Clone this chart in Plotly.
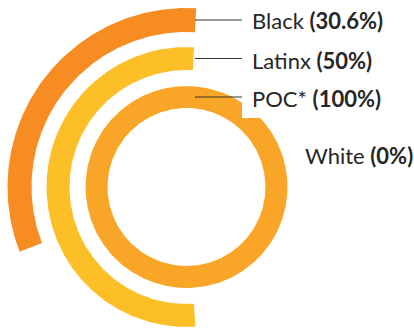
import numpy as np
import plotly.graph_objects as go

# ---- data ----
groups = ["Black", "Latinx", "POC*", "White"]
shares = [30.6, 50.0, 100.0, 0.0]          # percent
labels = ["Black <b>(30.6%)</b>", "Latinx <b>(50%)</b>",
          "POC* <b>(100%)</b>", "White <b>(0%)</b>"]

# ---- style ----
colors = ["#F68C22", "#FDBF27", "#F9A527", "#F9A527"]
radii = [(155, 179), (117, 140), (79, 101), (41, 63)]  # inner, outer (px)
cx, cy = 186.5, 187.0
start_offset = 3.1          # degrees clockwise from 12 o'clock
deg_per_pct = 3.735
label_x = 250
label_y = [20.5, 60, 98, 155]
text_color = "#262626"
FONT = "Lato"

fig = go.Figure()

for g, s, col, (ri, ro) in zip(groups, shares, colors, radii):
    if s <= 0:
        continue
    span = min(s * deg_per_pct, 360.0)
    a0 = start_offset
    a1 = start_offset - span
    n = max(int(abs(span) * 2), 10)
    t = np.radians(np.linspace(a0, a1, n))
    tr = t[::-1]
    xs = np.concatenate([cx + ro * np.sin(t), cx + ri * np.sin(tr)])
    ys = np.concatenate([cy - ro * np.cos(t), cy - ri * np.cos(tr)])
    xs = np.append(xs, xs[0])
    ys = np.append(ys, ys[0])
    fig.add_trace(go.Scatter(x=xs, y=ys, mode="lines", fill="toself",
                             fillcolor=col, line=dict(width=0, color=col),
                             hoverinfo="skip", name=g, showlegend=False))

shapes = []
shapes.append(dict(type="rect", xref="x", yref="y", x0=242, x1=414, y0=80, y1=118,
                   fillcolor="white", line=dict(width=0), layer="above"))
for i, (s, (ri, ro)) in enumerate(zip(shares, radii)):
    if s <= 0:
        continue
    yl = cy - (ri + ro) / 2
    shapes.append(dict(type="line", xref="x", yref="y", x0=195, x1=242, y0=yl, y1=yl,
                       line=dict(color="#333333", width=1.2), layer="above"))

annotations = []
for lab, yl, s in zip(labels, label_y, shares):
    annotations.append(dict(x=label_x if s > 0 else 303, y=yl, xref="x", yref="y",
                            text=lab, showarrow=False, xanchor="left", yanchor="middle",
                            font=dict(family=FONT, size=22, color=text_color)))

fig.update_layout(
    width=414, height=328, margin=dict(l=0, r=0, t=0, b=0),
    paper_bgcolor="white", plot_bgcolor="white",
    xaxis=dict(range=[0, 414], visible=False, fixedrange=True),
    yaxis=dict(range=[328, 0], visible=False, fixedrange=True),
    shapes=shapes, annotations=annotations, showlegend=False,
)

fig.write_html("out.html")
